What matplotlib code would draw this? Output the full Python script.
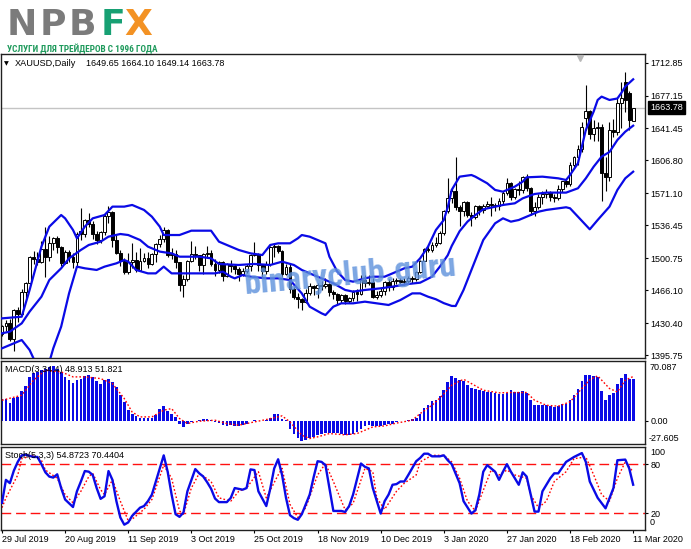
import matplotlib
matplotlib.use('Agg')
import matplotlib.pyplot as plt
from matplotlib import font_manager
from matplotlib.transforms import blended_transform_factory, IdentityTransform
import numpy as np

# ---------------- data ----------------
symbol_title = 'XAUUSD,Daily'
ohlc_text = '1649.65 1664.10 1649.14 1663.78'
last_price = 1663.78
macd_label = 'MACD(3,34,4) 48.913 51.821'
stoch_label = 'Stoch(5,3,3) 54.8723 70.4404'

date_tick_bars = [0, 16, 32, 48, 64, 80, 96, 112, 128, 144, 160]
date_labels = ['29 Jul 2019', '20 Aug 2019', '11 Sep 2019', '3 Oct 2019', '25 Oct 2019',
               '18 Nov 2019', '10 Dec 2019', '3 Jan 2020', '27 Jan 2020', '18 Feb 2020',
               '11 Mar 2020']
price_ticks = [1712.85, 1677.15, 1641.45, 1606.80, 1571.10, 1536.45, 1500.75,
               1466.10, 1430.40, 1395.75]
macd_top, macd_bottom = 70.087, -27.605
stoch_levels = [80, 20]

opens = [1419, 1427, 1431, 1413, 1445, 1440, 1464, 1474, 1502, 1500,
         1497, 1511, 1502, 1517, 1523, 1513, 1496, 1507, 1502, 1497,
         1530, 1527, 1542, 1538, 1527, 1520, 1529, 1547, 1551, 1520,
         1506, 1498, 1486, 1497, 1499, 1488, 1498, 1501, 1494, 1505,
         1516, 1522, 1531, 1504, 1505, 1497, 1472, 1478, 1498, 1505,
         1504, 1493, 1505, 1506, 1494, 1488, 1497, 1481, 1494, 1492,
         1489, 1484, 1487, 1492, 1504, 1505, 1493, 1487, 1495, 1513,
         1514, 1509, 1484, 1491, 1467, 1459, 1456, 1453, 1463, 1471,
         1468, 1472, 1471, 1473, 1464, 1462, 1455, 1461, 1454, 1458,
         1464, 1462, 1477, 1474, 1475, 1459, 1461, 1465, 1475, 1470,
         1476, 1477, 1475, 1476, 1479, 1478, 1486, 1498, 1511, 1510,
         1515, 1517, 1528, 1552, 1566, 1574, 1556, 1552, 1562, 1548,
         1545, 1557, 1553, 1557, 1560, 1558, 1557, 1563, 1571, 1582,
         1567, 1576, 1575, 1589, 1577, 1552, 1556, 1567, 1570, 1573,
         1567, 1566, 1576, 1584, 1581, 1602, 1611, 1619, 1653, 1660,
         1636, 1642, 1643, 1593, 1589, 1640, 1638, 1669, 1692, 1680,
         1649.65]
highs = [1428, 1434, 1435, 1446, 1448, 1467, 1475, 1503, 1509, 1507,
         1519, 1535, 1525, 1524, 1525, 1514, 1510, 1510, 1506, 1529,
         1555, 1543, 1550, 1541, 1530, 1530, 1549, 1557, 1552, 1526,
         1510, 1501, 1506, 1517, 1508, 1512, 1506, 1507, 1506, 1517,
         1526, 1535, 1532, 1512, 1510, 1497, 1482, 1499, 1519, 1514,
         1504, 1506, 1514, 1510, 1500, 1498, 1498, 1496, 1499, 1495,
         1491, 1490, 1495, 1505, 1518, 1506, 1495, 1498, 1514, 1516,
         1515, 1510, 1495, 1494, 1469, 1463, 1458, 1467, 1474, 1472,
         1474, 1476, 1479, 1474, 1466, 1463, 1462, 1462, 1459, 1466,
         1467, 1483, 1482, 1482, 1479, 1465, 1468, 1476, 1478, 1479,
         1479, 1479, 1479, 1481, 1481, 1487, 1499, 1512, 1515, 1518,
         1524, 1530, 1553, 1588, 1577, 1611, 1558, 1563, 1563, 1551,
         1558, 1559, 1560, 1563, 1567, 1561, 1566, 1574, 1588, 1583,
         1577, 1585, 1590, 1592, 1578, 1562, 1570, 1574, 1576, 1574,
         1570, 1580, 1585, 1586, 1605, 1612, 1624, 1649, 1689, 1662,
         1651, 1649, 1646, 1611, 1649, 1652, 1674, 1692, 1703, 1682,
         1664.10]
lows = [1416, 1422, 1411, 1400, 1432, 1439, 1455, 1473, 1494, 1493,
        1496, 1480, 1498, 1510, 1506, 1492, 1495, 1497, 1490, 1492,
        1520, 1524, 1535, 1522, 1516, 1517, 1526, 1539, 1513, 1505,
        1492, 1484, 1484, 1490, 1486, 1487, 1497, 1490, 1493, 1497,
        1513, 1518, 1502, 1500, 1490, 1465, 1459, 1476, 1497, 1500,
        1487, 1484, 1501, 1492, 1481, 1485, 1476, 1480, 1486, 1484,
        1476, 1481, 1485, 1487, 1503, 1487, 1480, 1484, 1492, 1502,
        1506, 1480, 1483, 1463, 1456, 1447, 1445, 1452, 1461, 1461,
        1458, 1466, 1468, 1460, 1457, 1450, 1452, 1451, 1452, 1454,
        1454, 1461, 1470, 1472, 1458, 1457, 1459, 1461, 1465, 1466,
        1473, 1473, 1472, 1473, 1474, 1476, 1485, 1498, 1507, 1508,
        1513, 1516, 1526, 1550, 1561, 1553, 1536, 1546, 1545, 1536,
        1543, 1548, 1550, 1556, 1547, 1552, 1553, 1560, 1569, 1564,
        1565, 1569, 1572, 1574, 1548, 1547, 1554, 1560, 1566, 1563,
        1562, 1564, 1573, 1578, 1579, 1599, 1602, 1616, 1640, 1630,
        1628, 1628, 1563, 1574, 1585, 1632, 1634, 1642, 1659, 1640,
        1649.14]
closes = [1427, 1431, 1413, 1445, 1440, 1464, 1474, 1502, 1500, 1497,
          1511, 1502, 1517, 1523, 1513, 1496, 1507, 1502, 1497, 1527,
          1527, 1542, 1538, 1527, 1520, 1529, 1547, 1551, 1520, 1506,
          1498, 1486, 1497, 1499, 1488, 1498, 1501, 1494, 1505, 1516,
          1522, 1531, 1504, 1505, 1497, 1472, 1478, 1498, 1505, 1504,
          1493, 1505, 1506, 1494, 1488, 1497, 1481, 1494, 1492, 1489,
          1484, 1487, 1492, 1504, 1505, 1493, 1487, 1495, 1513, 1514,
          1509, 1484, 1491, 1467, 1459, 1456, 1453, 1463, 1471, 1468,
          1472, 1471, 1473, 1464, 1462, 1455, 1461, 1454, 1458, 1464,
          1462, 1477, 1474, 1475, 1459, 1461, 1465, 1475, 1470, 1476,
          1477, 1475, 1476, 1479, 1478, 1486, 1498, 1511, 1510, 1515,
          1517, 1528, 1552, 1566, 1574, 1556, 1552, 1562, 1548, 1545,
          1557, 1553, 1557, 1560, 1558, 1557, 1563, 1571, 1582, 1567,
          1576, 1575, 1589, 1577, 1552, 1556, 1567, 1570, 1573, 1567,
          1566, 1576, 1584, 1581, 1602, 1611, 1619, 1643, 1660, 1636,
          1642, 1643, 1593, 1589, 1640, 1638, 1669, 1674, 1672, 1651,
          1663.78]

bb_upper_bars = [0, 5, 7, 10, 12, 15, 16, 18, 19, 21, 23, 26, 28, 31, 33, 36, 38, 40, 41,
                 45, 48, 53, 55, 58, 60, 63, 66, 68, 70, 73, 75, 76, 78, 80, 82, 83, 85,
                 87, 89, 92, 94, 97, 99, 102, 104, 106, 108, 110, 112, 113, 114, 116, 119,
                 120, 123, 125, 127, 130, 132, 133, 137, 141, 143, 144, 146, 147, 148,
                 150, 151, 152, 154, 156, 157, 158, 160]
bb_upper = [1435.5, 1437.3, 1466.3, 1513.3, 1535.0, 1547.6, 1544.0, 1531.4, 1522.3, 1535.0,
            1544.0, 1547.6, 1556.7, 1556.7, 1558.5, 1553.1, 1545.8, 1535.0, 1525.9,
            1525.9, 1530.6, 1530.6, 1518.7, 1513.3, 1509.7, 1506.0, 1504.2, 1515.1, 1516.9,
            1516.9, 1522.3, 1525.9, 1524.1, 1520.5, 1516.9, 1502.4, 1486.2,
            1477.1, 1475.3, 1478.9, 1480.7, 1480.7, 1484.3, 1489.8, 1491.6, 1500.6, 1513.3,
            1531.4, 1542.2, 1556.0, 1574.8, 1589.2, 1591.0,
            1589.2, 1582.0, 1574.8, 1572.9, 1578.4, 1583.8, 1588.5, 1589.2, 1587.4, 1585.6,
            1591.0, 1603.7, 1621.8, 1639.9,
            1660.0, 1672.4, 1676.0, 1672.4, 1674.0, 1680.0, 1687.0, 1694.8]

bb_mid_bars = [0, 2, 5, 7, 10, 12, 15, 17, 20, 22, 25, 27, 30, 32, 35, 37, 40, 43, 45, 50,
               53, 55, 60, 64, 68, 71, 74, 76, 79, 82, 84, 87, 89, 92, 96, 99, 103, 106,
               109, 111, 113, 114, 116, 118, 120, 122, 125, 127, 130, 132, 135, 138, 143,
               146, 148, 150, 152, 154, 156, 158, 160]
bb_mid = [1419.3, 1421.1, 1430.1, 1442.8, 1459.0, 1477.1, 1489.8, 1500.6, 1509.7, 1515.1,
          1518.7, 1524.1, 1527.0, 1525.9, 1520.5, 1513.3, 1507.9, 1506.0, 1502.4, 1502.4,
          1500.6, 1494.5, 1493.4, 1494.5, 1493.4, 1497.0, 1493.4, 1488.0, 1482.5, 1477.1,
          1473.5, 1466.3, 1464.5, 1466.3, 1468.1, 1469.9, 1472.8, 1474.2,
          1480.7, 1491.6, 1504.0, 1514.0, 1530.0, 1540.4, 1547.6, 1553.8, 1556.6, 1558.5,
          1560.3, 1565.7, 1570.4, 1571.9, 1571.9,
          1576.6, 1587.4, 1600.1, 1610.9, 1616.0, 1629.0, 1638.0, 1644.5]

bb_low_bars = [0, 2, 5, 7, 8, 10, 11, 12, 13, 15, 17, 19, 21, 24, 26, 29, 31, 32, 34, 37,
               39, 41, 43, 54, 56, 58, 59, 61, 63, 67, 70, 73, 76, 78, 81, 82, 84, 86, 89,
               92, 95, 98, 101, 104, 106, 108, 110, 112, 114, 115, 117, 119, 122, 125,
               127, 129, 131, 134, 136, 138, 143, 144, 146, 149, 151, 154, 156, 158, 160]
bb_low = [1403.0, 1406.6, 1412.0, 1401.2, 1392.0, 1378.0, 1376.0, 1388.0, 1403.0, 1426.5,
          1462.6, 1491.6, 1489.8, 1488.0, 1491.6, 1495.2, 1498.8, 1497.0, 1488.0, 1484.3,
          1484.3, 1491.6, 1484.3, 1484.3, 1486.2, 1480.7, 1478.9, 1482.5, 1480.7, 1478.9,
          1478.9, 1477.1, 1462.6, 1448.2, 1441.0, 1439.1, 1448.2, 1451.8, 1451.8,
          1453.6, 1451.8, 1450.0, 1455.4, 1462.6, 1462.6, 1459.0, 1456.2, 1452.0, 1449.0,
          1448.9, 1466.3, 1488.0, 1520.5, 1538.6,
          1544.0, 1540.4, 1542.2, 1547.6, 1551.2, 1553.1, 1556.0, 1554.9, 1545.8, 1532.1,
          1542.2, 1556.7, 1574.8, 1587.4, 1594.6]

macd_hist = [25.9, 25.9, 20.8, 26.7, 27.9, 34.5, 40.8, 51.4, 56.5, 57.3,
             59.2, 60.4, 63.2, 63.9, 61.2, 57.3, 51.4, 47.5, 44.7, 47.5,
             49.4, 52.6, 54.1, 51.4, 46.3, 43.5, 47.5, 48.6, 45.5, 39.6,
             30.6, 22.0, 12.9, 8.2, 5.5, 3.5, 3.5, 3.1, 3.1, 7.1,
             14.1, 17.3, 11.0, 7.5, 4.3, -4.3, -7.5, -3.5, -1.6, -0.8,
             0.4, 1.6, 2.4, 0.4, -1.6, -2.7, -5.5, -6.3, -5.5, -6.3,
             -6.3, -5.5, -3.5, -0.8, 1.2, -0.4, -0.8, 0.4, 3.5, 7.5,
             7.5, 2.4, 0.4, -9.4, -16.1, -20.4, -23.9, -23.1, -20.4, -19.2,
             -17.3, -16.1, -14.5, -14.1, -14.1, -14.5, -15.3, -17.3, -17.3, -15.3,
             -13.3, -9.4, -6.7, -5.5, -6.7, -6.7, -6.7, -5.5, -4.3, -3.5,
             -1.6, -0.8, -0.4, 1.2, 2.4, 3.5, 8.2, 15.3, 18.8, 23.1,
             24.7, 29.0, 35.7, 45.5, 52.2, 50.6, 48.3, 46.3, 41.6, 38.4,
             37.7, 35.7, 34.5, 33.7, 33.7, 32.6, 31.0, 31.0, 32.6, 35.7,
             33.7, 33.7, 34.9, 32.6, 23.9, 18.0, 18.0, 18.0, 18.0, 17.3,
             16.1, 16.9, 19.2, 19.2, 24.7, 30.6, 37.7, 46.3, 54.1, 53.4,
             52.6, 51.4, 34.5, 23.9, 30.6, 32.6, 43.5, 50.6, 55.3, 49.4,
             48.913]

macd_sig_bars = [0, 5, 8, 11, 15, 18, 21, 25, 28, 31, 33, 35, 38, 41, 43, 45, 47, 50, 54,
                 57, 60, 64, 67, 71, 73, 76, 78, 80, 83, 87, 90, 94, 97, 100, 104, 106,
                 109, 111, 114, 117, 119, 122, 126, 129, 133, 135, 138, 141, 144, 147,
                 149, 151, 154, 156, 158, 160]
macd_sig = [23.9, 29.8, 47.5, 59.2, 57.3, 51.4, 51.4, 49.4, 43.5, 25.9, 10.0, 4.3, 4.3,
            12.2, 14.1, 2.4, -3.5, -0.8, 0.4, -3.5, -5.5, -1.6, 1.2, 5.5, -1.6, -17.3,
            -21.2, -19.2, -15.3, -16.8, -15.3, -7.5, -6.3, -3.0, 0.4, 8.2, 18.0, 26.5,
            41.6, 48.6, 43.5, 35.7, 32.6, 33.0, 33.0, 23.9, 18.0, 16.9, 22.0, 37.7,
            48.0, 52.6, 37.7, 33.7, 47.5, 51.821]

stoch_bars = [0, 1, 2, 3, 4, 5, 6, 8, 9, 10, 11, 12, 13, 14, 15, 16, 18, 19, 20, 21, 22,
              23, 24, 25, 26, 27, 28, 29, 30, 31, 32, 33, 35, 36, 37, 38, 40, 41, 42, 43,
              44, 45, 46, 47, 49, 50, 51, 52, 53, 54, 55, 57, 58, 59, 61, 62, 63, 64, 65,
              67, 68, 69, 70, 71, 72, 73, 74, 75, 76, 78, 79, 80, 81, 82, 83, 84, 86, 87,
              88, 89, 91, 92, 93, 94, 96, 97, 98, 99, 100, 101, 102, 103, 105, 106, 107,
              108, 109, 111, 112, 113, 114, 116, 117, 119, 120, 121, 122, 123, 125, 126,
              127, 128, 129, 131, 132, 133, 135, 136, 137, 139, 140, 141, 143, 145, 147,
              148, 149, 151, 153, 155, 156, 158, 159, 160]
stoch_main = [32.8, 60.8, 56.8, 72.0, 82.8, 90.8, 91.6, 88.8, 88.8, 80.0, 70.0, 64.8, 63.6,
              67.6, 50.8, 36.8, 27.6, 46.8, 58.8, 71.6, 70.8,
              66.8, 50.8, 37.6, 40.8, 71.6, 60.8, 34.8, 14.8, 6.0, 8.8, 16.8, 26.8, 28.8,
              34.8, 42.8, 74.8, 90.8, 70.8, 42.8,
              18.8, 15.6, 20.8, 46.8, 74.0, 68.8, 65.0, 58.0, 50.0, 38.0, 33.6, 33.6, 38.8,
              50.8, 48.8, 50.8, 73.6, 72.8, 46.8,
              28.8, 50.0, 74.8, 86.0, 66.8, 38.8, 17.6, 14.0, 12.0, 18.8, 42.8, 64.0, 83.6,
              82.8, 78.8, 50.8, 22.8, 22.8, 21.6,
              28.8, 42.8, 80.8, 76.8, 74.8, 50.8, 19.6, 34.8, 42.8, 54.8, 55.6, 58.8, 58.8,
              66.8, 83.6, 87.6, 92.8,
              92.8, 89.6, 89.6, 90.8, 84.8, 80.0, 56.8, 34.8, 19.6, 23.6, 42.8, 70.8, 78.8,
              70.8, 60.8,
              70.8, 80.0, 70.8, 54.8, 70.0, 64.8, 22.0, 22.0, 46.8, 62.8, 68.8, 68.8, 82.8,
              88.8, 93.6,
              82.8, 58.8, 38.8, 26.0, 50.8, 84.8, 85.6, 74.8, 54.8723]

stoch_sig_bars = [0, 1, 4, 5, 8, 10, 11, 14, 16, 18, 20, 22, 23, 25, 26, 28, 30, 32, 33,
                  36, 38, 41, 43, 45, 46, 48, 50, 53, 55, 58, 60, 62, 65, 67, 70, 71, 73,
                  75, 77, 80, 82, 84, 87, 89, 92, 94, 95, 97, 100, 102, 105, 106, 109, 112,
                  114, 116, 118, 120, 122, 124, 126, 128, 130, 133, 134, 136, 138, 140,
                  143, 145, 148, 150, 152, 154, 156, 158, 160]
stoch_sig = [26.8, 38.8, 66.8, 86.8, 90.8, 84.8, 72.8, 62.8, 42.8, 32.8, 46.8, 64.8, 68.8,
             48.8, 42.8, 60.8, 34.8, 10.8, 12.8,
             24.8, 36.8, 78.8, 62.8, 22.8, 18.8, 50.8, 68.8, 58.8, 38.8, 34.8, 46.8, 50.8,
             70.8, 38.8, 66.8, 74.8, 30.8,
             14.8, 26.8, 66.8, 80.8, 58.8, 24.0, 32.0, 74.8, 70.8, 38.8, 24.8, 46.8, 56.8,
             66.8, 82.8, 90.8, 90.8,
             82.8, 62.8, 34.8, 22.8, 48.0, 72.8, 66.8, 72.8, 66.8, 62.8, 42.8, 26.8, 34.8,
             58.8, 70.8, 86.8, 88.8, 66.8, 42.8, 34.8, 62.8, 82.8, 70.4404]

logo_letters = ['N', 'P', 'B', 'F', 'X']
logo_tagline = 'УСЛУГИ ДЛЯ ТРЕЙДЕРОВ С 1996 ГОДА'
watermark = 'binaryclub.guru'

# ---------------- fonts ----------------
W, H, DPI = 691, 549, 100
installed = {f.name for f in font_manager.fontManager.ttflist}


def pick(*names):
    for nm in names:
        if nm in installed:
            return nm
    return 'DejaVu Sans'


BASE = pick('Liberation Sans', 'Arimo', 'DejaVu Sans')
NARROW = pick('Liberation Sans Narrow', 'Roboto Condensed', 'Open Sans Condensed', BASE)
plt.rcParams['font.family'] = [BASE, 'DejaVu Sans']
plt.rcParams['font.size'] = 6.5

fig = plt.figure(figsize=(W / DPI, H / DPI), dpi=DPI)
fig.patch.set_facecolor('white')


def add_ax(l, t, r, b):
    return fig.add_axes([l / W, 1 - b / H, (r - l) / W, (b - t) / H])


def ftext(x, y, s, **kw):
    return fig.text(x / W, 1 - y / H, s, **kw)


def fit_width(t, target_px):
    r = fig.canvas.get_renderer()
    w = t.get_window_extent(renderer=r).width
    if w > 0:
        t.set_fontsize(t.get_fontsize() * target_px / w)


ax1 = add_ax(1, 53.5, 645, 358)
ax2 = add_ax(1, 361, 645, 444)
ax3 = add_ax(1, 447, 645, 530)

n = len(closes)
x = np.arange(n)
for ax in (ax1, ax2, ax3):
    ax.set_xlim(-0.25, 163.0)
    ax.set_facecolor('white')
    for s in ax.spines.values():
        s.set_color('#202020')
        s.set_linewidth(1.0)
    ax.tick_params(left=False, labelleft=False, bottom=False, labelbottom=False,
                   right=True, labelright=True, direction='out', length=2.5,
                   width=0.8, pad=1.5, labelsize=6.5, colors='black')
    ax.set_xticks([])

# ---------------- main pane ----------------
o = np.array(opens, float)
h = np.array(highs, float)
l = np.array(lows, float)
c = np.array(closes, float)
up = c >= o
ax1.set_ylim(1392.5, 1722.8)
ax1.set_yticks(price_ticks)
ax1.set_yticklabels(['%.2f' % v for v in price_ticks])

ax1.axhline(last_price, color='#c4c4c4', lw=1.0, zorder=1)
ax1.vlines(x, l, h, color='black', lw=0.8, zorder=3)
body_bot = np.minimum(o, c)
body_h = np.maximum(np.abs(c - o), 0.7)
ax1.bar(x[up], body_h[up], bottom=body_bot[up], width=0.72, facecolor='white',
        edgecolor='black', linewidth=0.7, zorder=4)
ax1.bar(x[~up], body_h[~up], bottom=body_bot[~up], width=0.72, facecolor='black',
        edgecolor='black', linewidth=0.7, zorder=4)

band_col = '#0a0ae6'
ax1.plot(bb_upper_bars, bb_upper, color=band_col, lw=1.6, zorder=5)
ax1.plot(bb_mid_bars, bb_mid, color=band_col, lw=1.6, zorder=5)
ax1.plot(bb_low_bars, bb_low, color=band_col, lw=1.6, zorder=5)

# chart shift marker
ax1.plot([146.6], [0.984], marker='v', ms=5, color='#b8b8b8', mec='#b8b8b8',
         transform=ax1.get_xaxis_transform(), clip_on=False, zorder=6)

# last price label
tr1 = blended_transform_factory(IdentityTransform(), ax1.transData)
ax1.text(650, last_price, '%.2f' % last_price, transform=tr1, color='white',
         fontsize=6.5, ha='left', va='center', zorder=10, clip_on=False,
         bbox=dict(boxstyle='square,pad=0.22', fc='black', ec='black'))

# watermark
wm = ax1.text(245, H - 294, watermark, transform=IdentityTransform(),
              family=[NARROW, BASE], fontweight='bold', fontsize=22,
              color='#5f92dc', alpha=0.82, ha='left', va='baseline', zorder=7)
fit_width(wm, 213)
wm.set_rotation(5.0)
wm.set_rotation_mode('anchor')

# ---------------- MACD pane ----------------
ax2.set_ylim(macd_bottom, macd_top)
ax2.bar(x, macd_hist, width=0.68, color='#0a0ae6', zorder=2)
ax2.plot(macd_sig_bars, macd_sig, color='#ff0000', lw=1.0, ls=(0, (1.2, 1.5)), zorder=3)
ax2.set_yticks([0])
ax2.set_yticklabels(['0.00'])
tr2 = blended_transform_factory(IdentityTransform(), ax2.transData)
ax2.text(650, macd_top - 6.0 / 0.8496, '%.3f' % macd_top, transform=tr2,
         ha='left', va='center', fontsize=6.5, clip_on=False)
ax2.text(649, macd_bottom + 5.5 / 0.8496, '%.3f' % macd_bottom, transform=tr2,
         ha='left', va='center', fontsize=6.5, clip_on=False)

# ---------------- Stochastic pane ----------------
ax3.set_ylim(-0.5, 101.0)
for lv in stoch_levels:
    ax3.axhline(lv, color='#ff1010', lw=1.0, ls=(0, (7, 3.5)), zorder=1)
ax3.plot(stoch_sig_bars, stoch_sig, color='#ff0000', lw=1.0, ls=(0, (1.2, 1.5)), zorder=2)
ax3.plot(stoch_bars, stoch_main, color='#0a0ae6', lw=1.7, zorder=3)
ax3.set_yticks(stoch_levels)
ax3.set_yticklabels([str(v) for v in stoch_levels])
tr3 = blended_transform_factory(IdentityTransform(), ax3.transData)
ax3.text(650, 94.5, '100', transform=tr3, ha='left', va='center', fontsize=6.5, clip_on=False)
ax3.text(650, 8.5, '0', transform=tr3, ha='left', va='center', fontsize=6.5, clip_on=False)

ax3.set_xticks(date_tick_bars, date_labels, ha='left')
ax3.tick_params(axis='x', bottom=True, labelbottom=True, length=2.5, pad=1.2,
                direction='out', width=0.8, labelsize=6.5)

# ---------------- texts ----------------
ftext(3.5, 63.5, '\u25bc', fontsize=4.5, va='center', ha='left', family='DejaVu Sans')
ftext(15, 63.5, symbol_title, fontsize=6.6, va='center', ha='left')
ftext(86, 63.5, ohlc_text, fontsize=6.5, va='center', ha='left')
ftext(5, 370, macd_label, fontsize=6.5, va='center', ha='left')
ftext(5, 455, stoch_label, fontsize=6.5, va='center', ha='left')

# logo: letters placed one by one
logo_x = [7, 39.5, 69, 101, 124]
logo_c = ['#7b7b7b', '#7b7b7b', '#7b7b7b', '#17a073', '#f39224']
for ch, lx, col in zip(logo_letters, logo_x, logo_c):
    ftext(lx, 35.2, ch, fontsize=26, fontweight='bold', color=col,
          family='DejaVu Sans', va='baseline', ha='left')
sub = ftext(7, 52.6, logo_tagline, fontsize=7, fontweight='bold',
            color='#1f9a5c', family=[NARROW, BASE], va='baseline', ha='left')
fit_width(sub, 151)

fig.savefig('out.png', dpi=DPI, facecolor='white')
